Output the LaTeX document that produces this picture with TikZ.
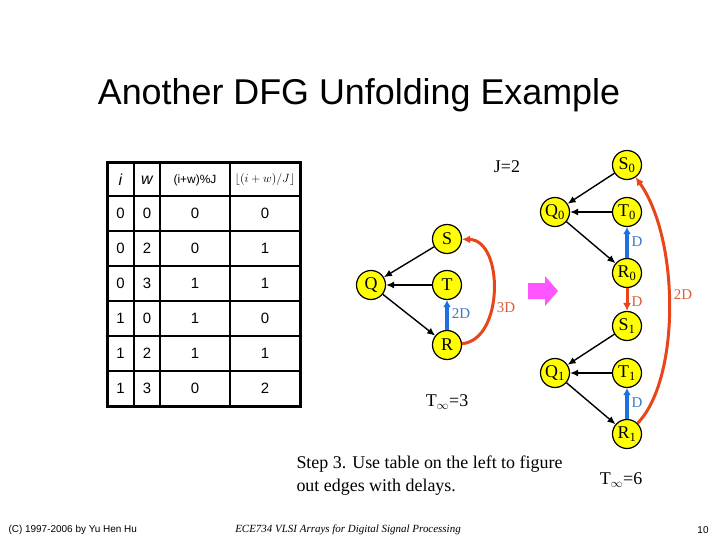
\documentclass[tikz,border=0pt]{standalone}
\usepackage{fontspec}
\setmainfont{Liberation Serif}
\setsansfont{Liberation Sans}
\usepackage{tikz}
\usetikzlibrary{arrows.meta}
\tikzset{>={Latex[length=8bp,width=7bp]}}
\definecolor{node yellow}{HTML}{FFFF00}
\definecolor{delay blue}{HTML}{1E6FE0}
\definecolor{delay red}{HTML}{E8461A}
\definecolor{label blue}{HTML}{3C78C8}
\definecolor{label red}{HTML}{D8603C}
\definecolor{arrow magenta}{HTML}{FF55FF}
\tikzset{
    dfgnode/.style={circle, draw=black, line width=1.2bp, fill=node yellow, minimum size=29bp, inner sep=0pt, font=\fontsize{18}{18}\selectfont},
    dataedge/.style={->, line width=1.4bp},
    blueedge/.style={-{Latex[length=7bp,width=8bp]}, line width=4bp, delay blue},
    rededge/.style={-{Latex[length=8bp,width=8bp]}, line width=3bp, delay red},
    delaylabel/.style={font=\fontsize{15}{15}\selectfont},
    cell/.style={font=\sffamily\fontsize{15}{15}\selectfont},
}

\begin{document}
\begin{tikzpicture}[x=1bp, y=-1bp]
    \useasboundingbox[fill=white] (0, 0) rectangle (720, 540);
    % title
    \node[font=\sffamily\fontsize{36}{36}\selectfont] (title) at (359, 95) {Another DFG Unfolding Example};
    % table
    \draw[line width=3bp] (107, 163) rectangle (300, 406);
    \foreach \x in {134, 160, 230} {
        \draw[line width=2bp] (\x, 163) -- (\x, 406);
    }
    \foreach \y in {196, 231, 266, 301, 336, 371} {
        \draw[line width=2bp] (107, \y) -- (300, \y);
    }
    \node[cell, font=\sffamily\itshape\fontsize{16}{16}\selectfont] (head-i) at (120.5, 180) {i};
    \node[cell, font=\sffamily\itshape\fontsize{16}{16}\selectfont] (head-w) at (147, 180) {w};
    \node[cell, font=\sffamily\fontsize{12}{12}\selectfont] (head-mod) at (195, 180) {(i+w)\%J};
    \node[cell, font=\fontsize{12}{12}\selectfont] (head-div) at (265, 180) {$\left\lfloor (i+w)/J \right\rfloor$};
    \foreach \i/\w/\m/\q [count=\r] in {0/0/0/0, 0/2/0/1, 0/3/1/1, 1/0/1/0, 1/2/1/1, 1/3/0/2} {
        \node[cell] (cell-\r-i) at (120.5, 178.5 + 35*\r) {\i};
        \node[cell] (cell-\r-w) at (147, 178.5 + 35*\r) {\w};
        \node[cell] (cell-\r-mod) at (195, 178.5 + 35*\r) {\m};
        \node[cell] (cell-\r-div) at (265, 178.5 + 35*\r) {\q};
    }
    % original DFG
    \node[font=\fontsize{18}{18}\selectfont] (J) at (507, 167) {J=2};
    \node[dfgnode] (S) at (447, 239) {S};
    \node[dfgnode] (Q) at (371, 285) {Q};
    \node[dfgnode] (T) at (447, 285) {T};
    \node[dfgnode] (R) at (447, 345) {R};
    \draw[dataedge] (S) -- (Q);
    \draw[dataedge] (T) -- (Q);
    \draw[dataedge] (Q) -- (R);
    \draw[blueedge] (R) -- (T);
    \draw[rededge] (R) .. controls (504, 340) and (504, 240) .. (S);
    \node[delaylabel, text=label blue] (RT) at (461, 314) {2D};
    \node[delaylabel, text=label red] (RS) at (506, 308) {3D};
    \node[font=\fontsize{18}{18}\selectfont] (Tinf) at (447, 402) {T$_\infty$=3};
    % unfolding arrow
    \fill[arrow magenta] (528, 283) -- (545, 283) -- (545, 276) -- (558, 291) -- (545, 306) -- (545, 299) -- (528, 299) -- cycle;
    % unfolded DFG
    \foreach \k/\y in {0/0, 1/161} {
        \node[dfgnode] (S\k) at (627, 165 + \y) {S\textsubscript{\k}};
        \node[dfgnode] (Q\k) at (555, 212 + \y) {Q\textsubscript{\k}};
        \node[dfgnode] (T\k) at (627, 212 + \y) {T\textsubscript{\k}};
        \node[dfgnode] (R\k) at (627, 273 + \y) {R\textsubscript{\k}};
        \draw[dataedge] (S\k) -- (Q\k);
        \draw[dataedge] (T\k) -- (Q\k);
        \draw[dataedge] (Q\k) -- (R\k);
        \draw[blueedge] (R\k) -- (T\k);
        \node[delaylabel, text=label blue] (D\k) at (637, 242 + \y) {D};
    }
    \draw[rededge] (R0) -- (S1);
    \node[delaylabel, text=label red] (R0S1) at (637, 302) {D};
    \draw[rededge] (R1) .. controls (680, 380) and (680, 240) .. (S0);
    \node[delaylabel, text=label red] (R1S0) at (683, 295) {2D};
    \node[font=\fontsize{18}{18}\selectfont] (Tinf2) at (621, 480) {T$_\infty$=6};
    % caption
    \node[font=\fontsize{18}{23}\selectfont, align=left, anchor=west] (step) at (293, 476) {Step 3. Use table on the left to figure\\out edges with delays.};
    % footer
    \node[font=\sffamily\fontsize{10}{10}\selectfont, anchor=west] (copy) at (5, 530) {(C) 1997-2006 by Yu Hen Hu};
    \node[font=\itshape\fontsize{11}{11}\selectfont] (course) at (348, 530) {ECE734 VLSI Arrays for Digital Signal Processing};
    \node[font=\sffamily\fontsize{10}{10}\selectfont] (page) at (703, 530) {10};
\end{tikzpicture}
\end{document}
